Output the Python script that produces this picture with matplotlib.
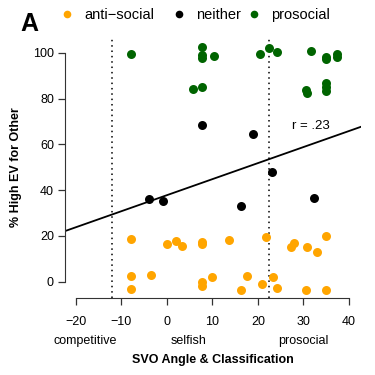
import matplotlib
matplotlib.use("Agg")
import matplotlib.pyplot as plt
from matplotlib.lines import Line2D

plt.rcParams['font.family'] = ['Liberation Sans', 'DejaVu Sans']

# SVO angle vs % high EV choices for other
anti_x = [-7.9, -7.9, -7.9, -3.4, 0.0, 2.0, 3.4, 7.8, 7.8, 7.8, 7.8, 10.0, 13.7,
          16.3, 17.5, 21.0, 21.7, 23.4, 24.3, 27.2, 28.0, 30.8, 30.5, 33.1, 34.9, 34.9]
anti_y = [18.5, 2.5, -3.2, 3.1, 16.6, 17.8, 15.6, 17.5, 16.5, -0.3, -1.7, 2.0, 18.3,
          -3.5, 2.6, -1.1, 19.5, 1.9, -2.6, 15.0, 16.8, 15.3, -3.6, 12.8, 20.1, -3.8]
neither_x = [7.8, 19.0, 23.0, -3.9, -0.9, 16.3, 32.3]
neither_y = [68.6, 64.4, 48.0, 36.1, 35.2, 33.2, 36.4]
pro_x = [-7.9, 7.8, 7.8, 7.8, 10.4, 5.8, 7.8, 20.4, 22.5, 24.2, 31.6, 34.9, 34.9,
         37.5, 37.5, 30.5, 30.8, 34.9, 34.9, 34.9]
pro_y = [99.4, 102.6, 99.0, 97.5, 98.7, 84.3, 84.9, 99.4, 101.9, 100.3, 100.9, 98.3, 97.1,
         99.4, 98.0, 83.7, 82.5, 86.9, 85.2, 83.4]

fit_intercept = 37.8
fit_slope = 0.70
boundaries = [-12.04, 22.45]
x_ticks = [-20, -10, 0, 10, 20, 30, 40]
y_ticks = [0, 20, 40, 60, 80, 100]
classes = ["competitive", "selfish", "prosocial"]
class_pos = [-18, 4.8, 30.1]
groups = ["anti\u2212social", "neither", "prosocial"]
group_colors = ["#FFA500", "black", "#006400"]

fig = plt.figure(figsize=(3.75, 3.75), dpi=100)
ax = fig.add_axes([65/375, 77/375, (360.7-65)/375, (298-36.7)/375])

ms = 42
for xs, ys, c, g in zip([anti_x, neither_x, pro_x], [anti_y, neither_y, pro_y], group_colors, groups):
    ax.scatter(xs, ys, s=ms, color=c, linewidths=0, label=g, zorder=3)

for b in boundaries:
    ax.axvline(b, color="black", linestyle=(0, (1, 2.5)), linewidth=1.1)
ax.axline((0, fit_intercept), slope=fit_slope, color="black", linewidth=1.3)
ax.text(27.6, 68, "r = .23", fontsize=9.5, ha="left", va="center")

ax.set_xlim(-22.4, 42.6)
ax.set_ylim(-7.1, 107)
for s in ["top", "right"]:
    ax.spines[s].set_visible(False)
ax.spines["left"].set_bounds(0, 100)
ax.spines["bottom"].set_bounds(-20, 40)
for s in ["left", "bottom"]:
    ax.spines[s].set_color("#333333")
ax.set_xticks(x_ticks)
ax.set_yticks(y_ticks)
ax.set_xticklabels([str(t).replace("-", "\u2212") for t in x_ticks])
ax.tick_params(length=5, width=0.9, color="#333333", labelsize=9, pad=3)
ax.tick_params(axis="x", pad=8)

for c, p in zip(classes, class_pos):
    ax.text(p, -0.165, c, transform=ax.get_xaxis_transform(), ha="center", va="center", fontsize=9)
ax.set_xlabel("SVO Angle & Classification", fontsize=9, fontweight="bold", labelpad=19)
ax.set_ylabel("% High EV for Other", fontsize=9, fontweight="bold", labelpad=8)

fig.text(29.5/375, 1 - 24/375, "A", fontsize=18, fontweight="bold", ha="center", va="center")

# one legend per group so the keys sit where they do in the original
key_x = [61/375, 173/375, 248/375]
for g, c, kx in zip(groups, group_colors, key_x):
    h = Line2D([], [], marker="o", linestyle="none", markersize=5.5, color=c, markeredgewidth=0)
    fig.legend([h], [g], loc="center left", bbox_to_anchor=(kx, 1 - 15/375), frameon=False,
               fontsize=10.5, handlelength=0.8, handletextpad=0.8, borderaxespad=0, borderpad=0)

fig.savefig("out.png", dpi=100)
